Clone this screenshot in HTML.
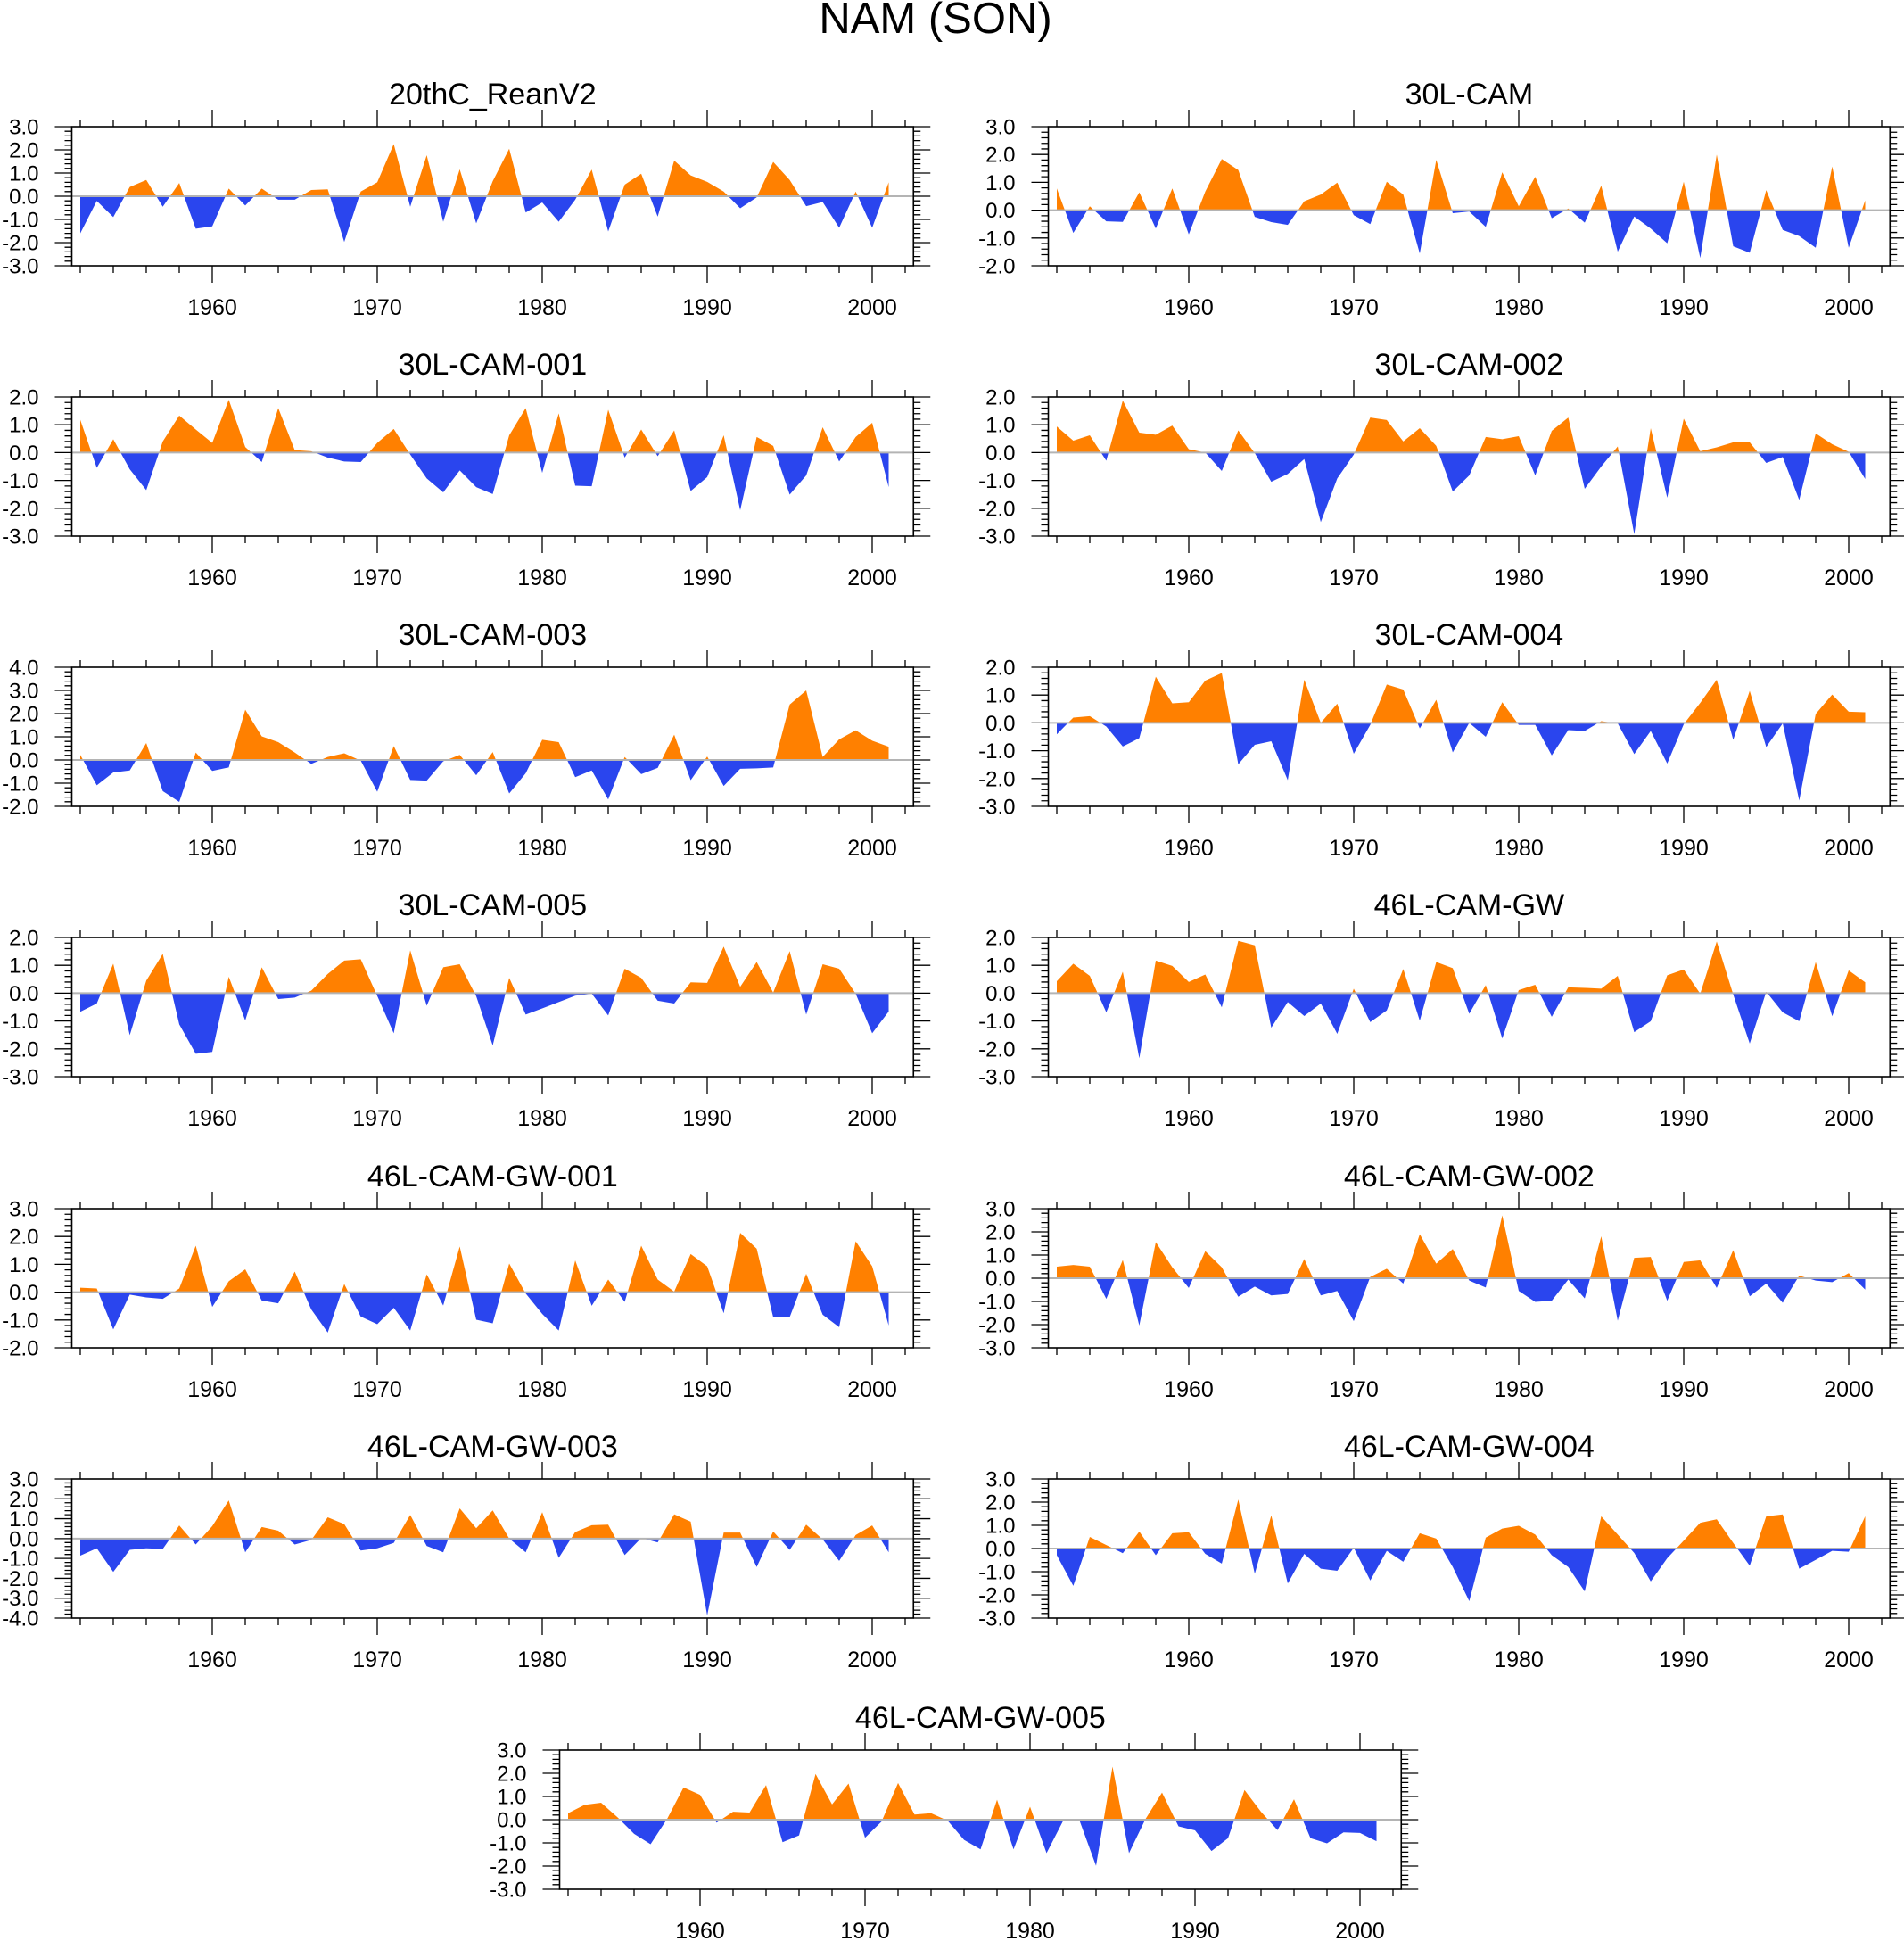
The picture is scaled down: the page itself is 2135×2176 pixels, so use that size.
<!DOCTYPE html>
<html><head><meta charset="utf-8">
<style>
html,body{margin:0;padding:0;background:#fff;}
svg{display:block;font-family:"Liberation Sans",Arial,sans-serif;}
</style></head>
<body>
<svg id="chart" width="2135" height="2176" viewBox="0 0 2135 2176" xmlns="http://www.w3.org/2000/svg">
<text x="1049" y="37" font-size="49" text-anchor="middle" fill="#000">NAM (SON)</text>
</svg>
<script>
const startYear = 1952;
const panelTitles = ["20thC_ReanV2","30L-CAM","30L-CAM-001","30L-CAM-002","30L-CAM-003","30L-CAM-004","30L-CAM-005","46L-CAM-GW","46L-CAM-GW-001","46L-CAM-GW-002","46L-CAM-GW-003","46L-CAM-GW-004","46L-CAM-GW-005"];
const yMax = [3,3,2,2,4,2,2,2,3,3,3,3,3];
const yMin = [-3,-2,-3,-3,-2,-3,-3,-3,-2,-3,-4,-3,-3];
const xTickLabels = [1960,1970,1980,1990,2000];
const s0 = [-1.6,-0.2,-0.9,0.4,0.7,-0.45,0.57,-1.4,-1.3,0.33,-0.4,0.33,-0.15,-0.15,0.27,0.3,-1.97,0.2,0.6,2.25,-0.45,1.77,-1.1,1.16,-1.17,0.65,2.05,-0.7,-0.27,-1.1,-0.15,1.15,-1.52,0.5,0.97,-0.88,1.54,0.9,0.62,0.2,-0.52,-0.05,1.48,0.7,-0.43,-0.25,-1.36,0.2,-1.36,0.6];
const s1 = [0.78,-0.82,0.14,-0.4,-0.42,0.64,-0.66,0.78,-0.87,0.67,1.84,1.44,-0.24,-0.43,-0.53,0.32,0.56,0.99,-0.18,-0.5,1.02,0.56,-1.56,1.81,-0.11,-0.05,-0.6,1.36,0.14,1.2,-0.29,0.06,-0.45,0.88,-1.49,-0.23,-0.66,-1.19,1.02,-1.72,2.0,-1.3,-1.53,0.72,-0.71,-0.93,-1.35,1.57,-1.35,0.35];
const s2 = [1.18,-0.55,0.48,-0.6,-1.35,0.4,1.33,0.83,0.35,1.9,0.2,-0.34,1.6,0.09,0.05,-0.18,-0.32,-0.34,0.35,0.85,-0.07,-0.93,-1.43,-0.64,-1.24,-1.49,0.62,1.6,-0.73,1.41,-1.19,-1.21,1.54,-0.18,0.83,-0.13,0.8,-1.38,-0.88,0.62,-2.07,0.56,0.24,-1.51,-0.82,0.91,-0.32,0.56,1.07,-1.24];
const s3 = [0.94,0.43,0.62,-0.29,1.87,0.72,0.64,0.97,0.12,0,-0.66,0.8,-0.02,-1.05,-0.77,-0.23,-2.5,-0.93,-0.07,1.26,1.17,0.4,0.88,0.24,-1.4,-0.82,0.56,0.48,0.59,-0.82,0.78,1.26,-1.3,-0.5,0.22,-2.93,0.88,-1.62,1.22,0.05,0.19,0.37,0.37,-0.37,-0.16,-1.7,0.69,0.3,0.03,-0.95];
const s4 = [0.22,-1.09,-0.54,-0.45,0.73,-1.34,-1.81,0.32,-0.47,-0.32,2.17,1.02,0.77,0.32,-0.17,0.13,0.29,-0.03,-1.37,0.6,-0.86,-0.89,-0.06,0.22,-0.66,0.34,-1.44,-0.57,0.87,0.77,-0.74,-0.45,-1.7,0.13,-0.61,-0.34,1.09,-0.87,0.15,-1.12,-0.38,-0.36,-0.32,2.39,3.0,0.13,0.89,1.28,0.83,0.57];
const s5 = [-0.41,0.19,0.24,-0.13,-0.85,-0.55,1.66,0.7,0.74,1.52,1.79,-1.49,-0.79,-0.66,-2.06,1.55,0,0.69,-1.11,-0.07,1.38,1.2,-0.2,0.83,-1.06,0,-0.5,0.74,-0.07,-0.07,-1.17,-0.26,-0.29,0.06,-0.02,-1.12,-0.29,-1.46,-0.05,0.72,1.55,-0.61,1.15,-0.87,-0.02,-2.79,0.32,1.02,0.4,0.38];
const s6 = [-0.67,-0.37,1.06,-1.51,0.45,1.41,-1.12,-2.18,-2.11,0.59,-0.98,0.93,-0.21,-0.16,0.09,0.69,1.17,1.22,-0.1,-1.44,1.54,-0.45,0.93,1.04,-0.11,-1.88,0.55,-0.77,-0.55,-0.32,-0.09,-0.02,-0.8,0.88,0.55,-0.27,-0.37,0.39,0.37,1.67,0.23,1.12,0.02,1.51,-0.77,1.04,0.88,-0.02,-1.44,-0.66];
const s7 = [0.43,1.06,0.62,-0.69,0.77,-2.34,1.17,0.98,0.4,0.67,-0.51,1.88,1.72,-1.24,-0.32,-0.82,-0.37,-1.46,0.16,-1.04,-0.62,0.87,-0.99,1.12,0.9,-0.74,0.29,-1.63,0.11,0.3,-0.85,0.21,0.19,0.16,0.62,-1.4,-1.01,0.64,0.85,-0.02,1.86,-0.05,-1.81,0.05,-0.69,-1.01,1.12,-0.83,0.82,0.39];
const s8 = [0.16,0.13,-1.34,-0.09,-0.19,-0.24,0.13,1.67,-0.53,0.39,0.82,-0.3,-0.4,0.74,-0.62,-1.45,0.29,-0.88,-1.15,-0.56,-1.38,0.64,-0.48,1.64,-0.99,-1.12,1.03,-0.05,-0.78,-1.38,1.14,-0.49,0.45,-0.35,1.67,0.45,0.02,1.37,0.93,-0.76,2.13,1.56,-0.9,-0.9,0.66,-0.81,-1.26,1.83,0.93,-1.2];
const s9 = [0.5,0.57,0.5,-0.89,0.79,-2.04,1.56,0.47,-0.42,1.17,0.47,-0.8,-0.36,-0.74,-0.68,0.83,-0.74,-0.55,-1.85,0.06,0.41,-0.23,1.9,0.63,1.26,-0.1,-0.4,2.71,-0.55,-1.02,-0.97,-0.06,-0.87,1.81,-1.83,0.88,0.92,-0.97,0.7,0.77,-0.42,1.21,-0.78,-0.23,-1.06,0.11,-0.1,-0.17,0.22,-0.49];
const s10 = [-0.86,-0.49,-1.68,-0.57,-0.49,-0.52,0.66,-0.3,0.63,1.92,-0.69,0.58,0.4,-0.3,-0.07,1.07,0.73,-0.6,-0.49,-0.22,1.19,-0.37,-0.69,1.52,0.52,1.42,0.0,-0.69,1.33,-0.97,0.33,0.67,0.7,-0.83,0.03,-0.19,1.22,0.85,-3.87,0.3,0.3,-1.43,0.36,-0.57,0.7,-0.04,-1.12,0.18,0.66,-0.69];
const s11 = [-0.29,-1.61,0.5,0.15,-0.2,0.73,-0.29,0.66,0.7,-0.23,-0.65,2.11,-1.09,1.43,-1.51,-0.23,-0.87,-0.96,0.03,-1.38,-0.1,-0.57,0.66,0.43,-0.8,-2.27,0.47,0.86,0.98,0.6,-0.29,-0.8,-1.85,1.39,0.6,-0.19,-1.42,-0.42,0.34,1.11,1.26,0.24,-0.74,1.39,1.47,-0.87,-0.49,-0.1,-0.14,1.39];
const s12 = [0.28,0.64,0.73,0.1,-0.61,-1.06,0.03,1.39,1.07,-0.13,0.34,0.31,1.49,-0.97,-0.68,1.97,0.66,1.56,-0.78,-0.08,1.58,0.22,0.28,-0.04,-0.87,-1.28,0.86,-1.28,0.56,-1.44,-0.06,-0.04,-1.99,2.29,-1.44,0.03,1.17,-0.29,-0.46,-1.35,-0.8,1.28,0.34,-0.45,0.88,-0.8,-1.02,-0.55,-0.57,-0.93];
const series = [s0,s1,s2,s3,s4,s5,s6,s7,s8,s9,s10,s11,s12];

const NS = "http://www.w3.org/2000/svg";
const svg = document.getElementById('chart');
const ORANGE = "#ff8000", BLUE = "#2a45ee";
const PW = 18.5, FH = 156;
const origins = [];
const rowTops = [142,445,748,1051,1355,1658];
for (let r=0;r<6;r++){ origins.push([90,rowTops[r]]); origins.push([1185,rowTops[r]]); }
origins.push([637,1962]);

function mk(tag, attrs, parent){
  const e = document.createElementNS(NS, tag);
  for (const k in attrs) e.setAttribute(k, attrs[k]);
  parent.appendChild(e);
  return e;
}

series.forEach((vals, p) => {
  const [x0, top] = origins[p];
  const lo = yMin[p], hi = yMax[p];
  const xS = yr => x0 + (yr - startYear) * PW;
  const yS = v => top + (hi - v) / (hi - lo) * FH;
  const left = x0 - 9.5, right = x0 + 50.5 * PW;
  const bottom = top + FH;
  const g = mk('g', {}, svg);
  
  

  const t = mk('text', {x:(left+right)/2, y: top-25, 'font-size':34, 'text-anchor':'middle', fill:'#000'}, g);
  t.textContent = panelTitles[p];
  
  

  const pts = [];
  for (let i=0;i<vals.length;i++){
    const v = vals[i];
    if (i>0){
      const pv = vals[i-1];
      if ((pv>0 && v<0) || (pv<0 && v>0)){
        const f = pv/(pv - v);
        pts.push([startYear + i - 1 + f, 0]);
      }
    }
    pts.push([startYear + i, v]);
  }
  const first = pts[0][0], last = pts[pts.length-1][0];
  function area(fn){
    let d = 'M' + xS(first) + ',' + yS(0);
    pts.forEach(q => { d += 'L' + xS(q[0]).toFixed(2) + ',' + yS(fn(q[1])).toFixed(2); });
    d += 'L' + xS(last) + ',' + yS(0) + 'Z';
    return d;
  }
  const pos = mk('path', {d: area(v=>Math.max(v,0)), fill: ORANGE}, g);
  
  
  const neg = mk('path', {d: area(v=>Math.min(v,0)), fill: BLUE}, g);
  
  

  const zl = mk('line', {x1:left, x2:right, y1:yS(0), y2:yS(0), stroke:'#b4b4b4', 'stroke-width':2}, g);
  
  

  const fr = mk('rect', {x:left, y:top, width:right-left, height:FH, fill:'none', stroke:'#000', 'stroke-width':1.6}, g);
  
  

  let d = '';
  for (let yr=1952; yr<=2002; yr+=2){
    const x = xS(yr), L = (yr%10===0) ? 19 : 8;
    d += 'M'+x+','+top+'v'+(-L)+'M'+x+','+bottom+'v'+L;
  }
  const xt = mk('path', {d:d, stroke:'#000', 'stroke-width':1.3, fill:'none'}, g);
  
  
  xTickLabels.forEach(yr => {
    const tl = mk('text', {x:xS(yr), y:bottom+55, 'font-size':25, 'text-anchor':'middle', fill:'#000'}, g);
    tl.textContent = yr;
    
    
  });

  d = '';
  const nMinor = Math.round((hi-lo)*5);
  for (let k=0;k<=nMinor;k++){
    const v = lo + k*0.2, y = yS(v).toFixed(2);
    const major = (k%5===0), L = major ? 19 : 8;
    d += 'M'+left+','+y+'h'+(-L)+'M'+right+','+y+'h'+L;
  }
  const yt = mk('path', {d:d, stroke:'#000', 'stroke-width':1.3, fill:'none'}, g);
  
  
  for (let v=lo; v<=hi; v++){
    const tl = mk('text', {x:left-37, y:yS(v)+8.5, 'font-size':24, 'text-anchor':'end', fill:'#000'}, g);
    tl.textContent = v.toFixed(1);
    
    
  }
});
</script>
</body></html>
